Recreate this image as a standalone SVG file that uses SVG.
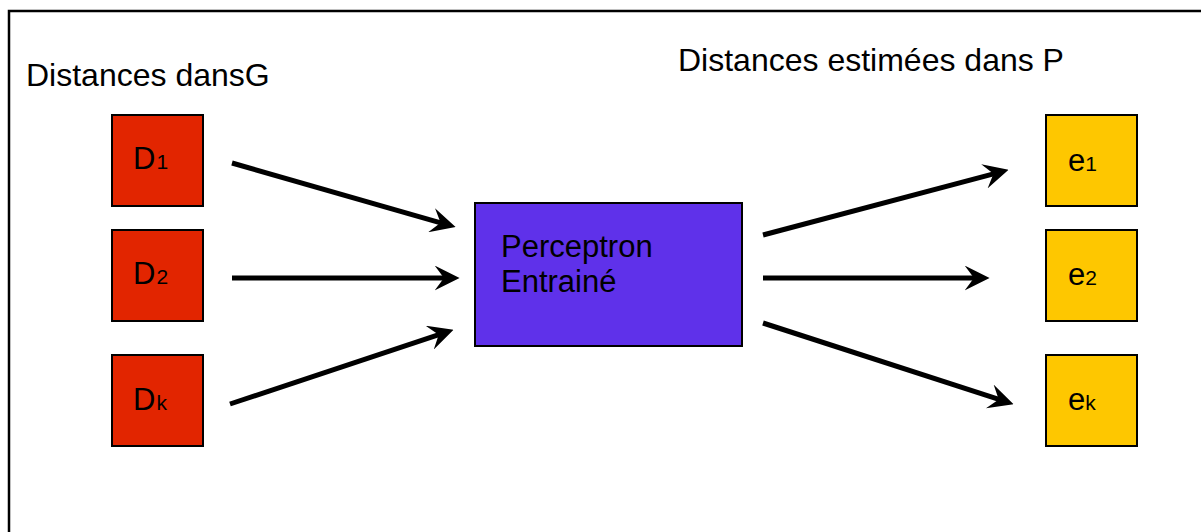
<svg xmlns="http://www.w3.org/2000/svg" width="1201" height="532" viewBox="0 0 1201 532">
<style>
text{font-family:"Liberation Sans",Arial,sans-serif;fill:#000}
.t{font-size:32px}
.n{font-size:31px}
.s{font-size:21px}
.red{fill:#E22500;stroke:#000;stroke-width:2}
.yel{fill:#FEC700;stroke:#000;stroke-width:2}
.pur{fill:#5F31EA;stroke:#000;stroke-width:2}
.c{stroke:#000;stroke-width:5;fill:none;marker-end:url(#ah)}
</style>
<defs>
<marker id="ah" viewBox="0 0 24 24" refX="10" refY="12" markerWidth="25" markerHeight="25" markerUnits="userSpaceOnUse" orient="auto">
<path d="M0,0 L24,12 L0,24 L9,12 Z" fill="#000"/>
</marker>
</defs>
<rect width="1201" height="532" fill="#fff"/>
<rect id="frame" x="9" y="11" width="1210" height="600" fill="none" stroke="#000" stroke-width="2.5"/>
<text class="t" x="26" y="86">Distances dansG</text>
<text class="t" x="678" y="71">Distances estimées dans P</text>
<g id="D1"><rect class="red" x="112" y="115" width="91" height="91"/><text class="n" x="133" y="169">D<tspan class="s" dx="1">1</tspan></text></g>
<g id="D2"><rect class="red" x="112" y="230" width="91" height="91"/><text class="n" x="133" y="284">D<tspan class="s" dx="1">2</tspan></text></g>
<g id="Dk"><rect class="red" x="112" y="355" width="91" height="91"/><text class="n" x="133" y="410">D<tspan class="s" dx="1">k</tspan></text></g>
<g id="perceptron"><rect class="pur" x="475" y="203" width="267" height="143"/><text class="n" x="501" y="257">Perceptron</text><text class="n" x="501" y="292">Entrainé</text></g>
<g id="e1"><rect class="yel" x="1046" y="115" width="91" height="91"/><text class="n" x="1068" y="171">e<tspan class="s" dx="0">1</tspan></text></g>
<g id="e2"><rect class="yel" x="1046" y="230" width="91" height="91"/><text class="n" x="1068" y="285">e<tspan class="s" dx="0">2</tspan></text></g>
<g id="ek"><rect class="yel" x="1046" y="355" width="91" height="91"/><text class="n" x="1068" y="410">e<tspan class="s" dx="0">k</tspan></text></g>
<g id="connectors">
<line class="c" x1="232" y1="163" x2="441.6" y2="223.1"/>
<line class="c" x1="232" y1="278" x2="445" y2="278"/>
<line class="c" x1="230" y1="404" x2="439.7" y2="334.4"/>
<line class="c" x1="763" y1="235" x2="994.5" y2="173.6"/>
<line class="c" x1="763" y1="278" x2="975" y2="278"/>
<line class="c" x1="763" y1="323" x2="999.7" y2="399.7"/>
</g>
</svg>
